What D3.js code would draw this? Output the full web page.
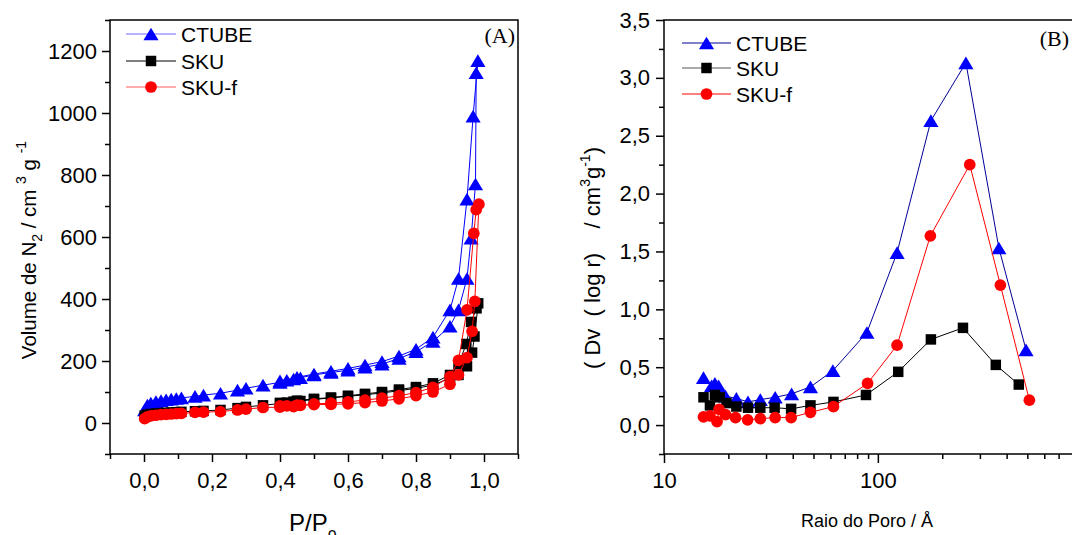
<!DOCTYPE html>
<html>
<head>
<meta charset="utf-8">
<script src="https://cdn.jsdelivr.net/npm/d3@7"></script>
<style>
  html, body { margin: 0; padding: 0; background: #fff; }
  svg { display: block; }
  text { font-family: "Liberation Sans", Arial, sans-serif; fill: #000; }
  .serif { font-family: "Liberation Serif", "Times New Roman", serif; }
</style>
</head>
<body>
<svg id="chart" width="1072" height="535"></svg>
<script>
// ---------- (A) N2 adsorption / desorption isotherms ----------
const seriesNames = ["CTUBE", "SKU", "SKU-f"];

const ctubeAdsP = [0.002, 0.01, 0.02, 0.035, 0.05, 0.065, 0.08, 0.095, 0.11, 0.15, 0.175, 0.225, 0.275, 0.30, 0.35, 0.40, 0.42, 0.44, 0.46, 0.50, 0.55, 0.60, 0.65, 0.70, 0.75, 0.80, 0.85, 0.90, 0.925, 0.95, 0.962, 0.975, 0.977];
const ctubeAdsV = [42, 58, 64, 69, 72, 75, 77, 79, 81, 86, 90, 96, 106, 112, 122, 131, 138, 142, 146, 155, 163, 170, 180, 190, 208, 230, 263, 312, 365, 466, 596, 771, 1130];
const ctubeDesP = [0.982, 0.968, 0.95, 0.925, 0.90, 0.85, 0.80, 0.75, 0.70, 0.65, 0.60, 0.55, 0.50, 0.45, 0.40];
const ctubeDesV = [1169, 990, 722, 466, 365, 277, 238, 216, 198, 187, 176, 167, 158, 147, 136];

const skuAdsP = [0.002, 0.01, 0.02, 0.035, 0.05, 0.065, 0.08, 0.095, 0.11, 0.15, 0.175, 0.225, 0.275, 0.30, 0.35, 0.40, 0.42, 0.44, 0.46, 0.50, 0.55, 0.60, 0.65, 0.70, 0.75, 0.80, 0.85, 0.90, 0.925, 0.95, 0.965, 0.972, 0.983];
const skuAdsV = [24, 27, 29, 31, 32, 33, 34, 35, 36, 38, 39, 42, 48, 52, 57, 63, 66, 69, 71, 76, 81, 86, 91, 97, 104, 112, 122, 145, 155, 183, 227, 279, 386];
const skuDesP = [0.978, 0.962, 0.948, 0.925, 0.90, 0.85, 0.80, 0.75, 0.70, 0.65, 0.60, 0.55, 0.50, 0.45, 0.40];
const skuDesV = [370, 326, 255, 190, 155, 128, 116, 108, 100, 94, 88, 82, 78, 72, 65];

const skufAdsP = [0.002, 0.01, 0.02, 0.035, 0.05, 0.065, 0.08, 0.095, 0.11, 0.15, 0.175, 0.225, 0.275, 0.30, 0.35, 0.40, 0.42, 0.44, 0.46, 0.50, 0.55, 0.60, 0.65, 0.70, 0.75, 0.80, 0.85, 0.90, 0.925, 0.95, 0.965, 0.973, 0.985];
const skufAdsV = [14, 20, 23, 25, 27, 28, 29, 30, 31, 34, 35, 37, 42, 45, 50, 51, 55, 53, 57, 59, 60, 62, 66, 71, 78, 88, 100, 125, 155, 211, 296, 392, 706];
const skufDesP = [0.977, 0.970, 0.95, 0.925, 0.90, 0.85, 0.80, 0.75, 0.70, 0.65, 0.60, 0.55, 0.50, 0.45, 0.40];
const skufDesV = [688, 612, 365, 202, 150, 115, 98, 88, 80, 74, 68, 64, 62, 58, 55];

const xTicksA = [0, 0.2, 0.4, 0.6, 0.8, 1.0];
const yTicksA = [0, 200, 400, 600, 800, 1000, 1200];

// ---------- (B) pore size distribution ----------
const ctubeR = [15.3, 16.7, 17.3, 18.0, 19.4, 21.8, 24.7, 28.2, 33.1, 39.5, 48.4, 61.6, 88.9, 123, 177, 258, 368, 493];
const ctubeDv = [0.41, 0.34, 0.36, 0.34, 0.25, 0.23, 0.20, 0.22, 0.24, 0.27, 0.33, 0.47, 0.80, 1.49, 2.63, 3.13, 1.53, 0.65];
const skuR = [15.3, 16.4, 17.3, 18.2, 19.6, 21.8, 24.7, 28.2, 32.9, 39.3, 48.4, 62, 88, 124.5, 177, 250, 356, 456];
const skuDv = [0.24, 0.17, 0.26, 0.24, 0.19, 0.16, 0.15, 0.15, 0.15, 0.14, 0.17, 0.20, 0.26, 0.46, 0.74, 0.84, 0.52, 0.35];
const skufR = [15.3, 16.4, 17.7, 18.1, 19.4, 21.6, 24.6, 28.2, 33.1, 39.3, 48.4, 62, 89.5, 123, 176, 269, 374, 511];
const skufDv = [0.07, 0.08, 0.03, 0.135, 0.09, 0.065, 0.045, 0.055, 0.065, 0.065, 0.11, 0.16, 0.36, 0.69, 1.635, 2.25, 1.21, 0.215];

const yTicksB = [0, 0.5, 1.0, 1.5, 2.0, 2.5, 3.0, 3.5];
const xTicksB = [10, 100];

// ---------- drawing ----------
const svg = d3.select("#chart");
const comma1 = d => d3.format(".1f")(d).replace(".", ",");

// triangle centred on its bounding box
const triangleBox = {
  draw(ctx, size) {
    const s = Math.sqrt(size);
    ctx.moveTo(0, -s * 0.5);
    ctx.lineTo(s * 0.6, s * 0.5);
    ctx.lineTo(-s * 0.6, s * 0.5);
    ctx.closePath();
  }
};
const markers = {
  "CTUBE": d3.symbol().type(triangleBox).size(160)(),
  "SKU": d3.symbol().type(d3.symbolSquare).size(110)(),
  "SKU-f": d3.symbol().type(d3.symbolCircle).size(108)()
};
const markerColor = { "CTUBE": "#0000ff", "SKU": "#000000", "SKU-f": "#ff0000" };

function zip(xs, ys) { return xs.map((x, i) => [x, ys[i]]); }

function drawSeries(g, pts, xs, ys, name, lineColor) {
  g.append("path")
    .attr("d", d3.line().x(d => xs(d[0])).y(d => ys(d[1]))(pts))
    .attr("fill", "none")
    .attr("stroke", lineColor)
    .attr("stroke-width", 1);
  g.selectAll(null).data(pts).enter().append("path")
    .attr("d", markers[name])
    .attr("transform", d => `translate(${xs(d[0])},${ys(d[1])})`)
    .attr("fill", markerColor[name]);
}

function drawLegend(g, x0, x1, tx, rows, lineColors) {
  seriesNames.forEach((name, i) => {
    const y = rows[i];
    g.append("line").attr("x1", x0).attr("x2", x1).attr("y1", y).attr("y2", y)
      .attr("stroke", lineColors[name]).attr("stroke-width", 1);
    g.append("path").attr("d", markers[name])
      .attr("transform", `translate(${(x0 + x1) / 2},${y})`)
      .attr("fill", markerColor[name]);
    g.append("text").attr("x", tx).attr("y", y).attr("dy", "0.36em")
      .attr("font-size", 21).text(name);
  });
}

function styleAxis(sel) {
  sel.select(".domain").remove();
  sel.selectAll(".tick line").attr("stroke", "#000").attr("stroke-width", 1.5);
  sel.selectAll(".tick text").attr("font-size", 22).attr("fill", "#000")
    .attr("font-family", '"Liberation Sans", Arial, sans-serif');
}

// ---- Panel A ----
const A = { left: 110, right: 518, top: 20, bottom: 454 };
const xA = d3.scaleLinear().domain([-0.1, 1.1]).range([A.left, A.right]);
const yA = d3.scaleLinear().domain([-100, 1300]).range([A.bottom, A.top]);
const gA = svg.append("g");

gA.append("g").attr("transform", `translate(0,${A.bottom})`)
  .call(d3.axisBottom(xA).tickValues(d3.range(-0.1, 1.15, 0.2)).tickSize(5).tickFormat(""))
  .call(styleAxis);
gA.append("g").attr("transform", `translate(0,${A.bottom})`)
  .call(d3.axisBottom(xA).tickValues(xTicksA).tickSize(8).tickPadding(10).tickFormat(comma1))
  .call(styleAxis);
gA.append("g").attr("transform", `translate(${A.left},0)`)
  .call(d3.axisLeft(yA).tickValues(d3.range(-100, 1350, 200)).tickSize(5).tickFormat(""))
  .call(styleAxis);
gA.append("g").attr("transform", `translate(${A.left},0)`)
  .call(d3.axisLeft(yA).tickValues(yTicksA).tickSize(8).tickPadding(5).tickFormat(d3.format("d")))
  .call(styleAxis);

const plotA = gA.append("g");
drawSeries(plotA, zip(ctubeAdsP, ctubeAdsV).concat(zip(ctubeDesP, ctubeDesV)), xA, yA, "CTUBE", "#0000ff");
drawSeries(plotA, zip(skuAdsP, skuAdsV).concat(zip(skuDesP, skuDesV)), xA, yA, "SKU", "#000000");
drawSeries(plotA, zip(skufAdsP, skufAdsV).concat(zip(skufDesP, skufDesV)), xA, yA, "SKU-f", "#ff0000");

gA.append("rect").attr("x", A.left).attr("y", A.top)
  .attr("width", A.right - A.left).attr("height", A.bottom - A.top)
  .attr("fill", "none").attr("stroke", "#000").attr("stroke-width", 1.5);

drawLegend(gA, 126, 176, 181, [34, 61, 87], { "CTUBE": "#6a6aff", "SKU": "#000", "SKU-f": "#ff5a5a" });
gA.append("text").attr("class", "serif").attr("x", 515).attr("y", 43)
  .attr("text-anchor", "end").attr("font-size", 22).text("(A)");

// axis titles A
const xtA = gA.append("text").attr("x", 289).attr("y", 531).attr("font-size", 24);
xtA.append("tspan").text("P/P");
xtA.append("tspan").attr("font-size", 16).attr("dy", 11).text("0");

const ytA = gA.append("text").attr("transform", "translate(36,250) rotate(-90)")
  .attr("text-anchor", "middle").attr("font-size", 20.5).style("white-space", "pre");
ytA.append("tspan").text("Volume de N");
ytA.append("tspan").attr("font-size", 14).attr("dy", 6).text("2");
ytA.append("tspan").attr("dy", -6).text(" / cm ");
ytA.append("tspan").attr("font-size", 14).attr("dy", -10).text("3");
ytA.append("tspan").attr("dy", 10).text(" g ");
ytA.append("tspan").attr("font-size", 14).attr("dy", -10).text("-1");

// ---- Panel B ----
const B = { left: 664, right: 1071, top: 20, bottom: 454 };
const xB = d3.scaleLog().domain([10, 800]).range([B.left, B.right]);
const yB = d3.scaleLinear().domain([-0.25, 3.5]).range([B.bottom, B.top]);
const gB = svg.append("g");

const minorB = [20, 30, 40, 50, 60, 70, 80, 90, 200, 300, 400, 500, 600, 700];
gB.append("g").attr("transform", `translate(0,${B.bottom})`)
  .call(d3.axisBottom(xB).tickValues(minorB).tickSize(5).tickFormat(""))
  .call(styleAxis);
gB.append("g").attr("transform", `translate(0,${B.bottom})`)
  .call(d3.axisBottom(xB).tickValues(xTicksB).tickSize(9).tickPadding(9).tickFormat(d3.format("d")))
  .call(styleAxis);
gB.append("g").attr("transform", `translate(${B.left},0)`)
  .call(d3.axisLeft(yB).tickValues(d3.range(-0.25, 3.5, 0.5)).tickSize(5).tickFormat(""))
  .call(styleAxis);
gB.append("g").attr("transform", `translate(${B.left},0)`)
  .call(d3.axisLeft(yB).tickValues(yTicksB).tickSize(8).tickPadding(6).tickFormat(comma1))
  .call(styleAxis);

const plotB = gB.append("g");
drawSeries(plotB, zip(ctubeR, ctubeDv), xB, yB, "CTUBE", "#000099");
drawSeries(plotB, zip(skuR, skuDv), xB, yB, "SKU", "#000000");
drawSeries(plotB, zip(skufR, skufDv), xB, yB, "SKU-f", "#ff0000");

gB.append("rect").attr("x", B.left).attr("y", B.top)
  .attr("width", 1075 - B.left).attr("height", B.bottom - B.top)
  .attr("fill", "none").attr("stroke", "#000").attr("stroke-width", 1.5);

drawLegend(gB, 682, 731, 736, [43, 68, 94], { "CTUBE": "#000099", "SKU": "#555", "SKU-f": "#ff0000" });
gB.append("text").attr("class", "serif").attr("x", 1069).attr("y", 46)
  .attr("text-anchor", "end").attr("font-size", 22).text("(B)");

gB.append("text").attr("x", 867).attr("y", 527).attr("text-anchor", "middle")
  .attr("font-size", 18).text("Raio do Poro / Å");

const ytB = gB.append("text").attr("transform", "translate(600,258) rotate(-90)")
  .attr("text-anchor", "middle").attr("font-size", 22).style("white-space", "pre");
ytB.append("tspan").text("( Dv  ( log r)    / cm");
ytB.append("tspan").attr("font-size", 14).attr("dy", -10).text("3");
ytB.append("tspan").attr("dy", 10).text("g");
ytB.append("tspan").attr("font-size", 14).attr("dy", -10).text("-1");
ytB.append("tspan").attr("dy", 10).text(")");
</script>
</body>
</html>
